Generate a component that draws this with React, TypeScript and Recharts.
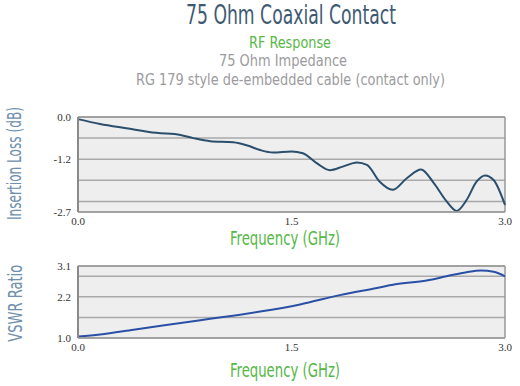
import React from 'react';
import { LineChart, Line, XAxis, YAxis, CartesianGrid, ReferenceLine } from 'recharts';

const ilFreq = [0, 0.155, 0.34, 0.55, 0.72, 0.81, 0.93, 1.09, 1.19, 1.28, 1.37, 1.5, 1.58, 1.68, 1.77, 1.86, 1.96, 2.03, 2.12, 2.21, 2.31, 2.41, 2.5, 2.59, 2.66, 2.73, 2.8, 2.86, 2.92, 3.0];
const ilValues = [-0.06, -0.2, -0.32, -0.45, -0.51, -0.6, -0.69, -0.72, -0.81, -0.94, -1.01, -0.98, -1.03, -1.32, -1.51, -1.41, -1.29, -1.36, -1.84, -2.07, -1.74, -1.49, -1.88, -2.4, -2.67, -2.36, -1.84, -1.66, -1.79, -2.5];

const vswrFreq = [0, 0.155, 0.39, 0.62, 0.86, 1.02, 1.28, 1.56, 1.84, 2.1, 2.22, 2.45, 2.59, 2.73, 2.83, 2.92, 3.0];
const vswrValues = [1.04, 1.1, 1.24, 1.38, 1.52, 1.61, 1.77, 1.98, 2.25, 2.46, 2.56, 2.68, 2.8, 2.92, 2.97, 2.93, 2.8];

const freqTicks = [0, 1.5, 3];
const ilTicks = [0, -0.6, -1.2, -1.8, -2.4, -2.7];
const ilLabeled = [0, -1.2, -2.7];
const vswrTicks = [1.0, 1.6, 2.2, 2.8, 3.1];
const vswrLabeled = [1.0, 2.2, 3.1];

const ilData = ilFreq.map((f, i) => ({ f, v: ilValues[i] }));
const vswrData = vswrFreq.map((f, i) => ({ f, v: vswrValues[i] }));

const tickStyle = { fontSize: 11, fill: '#333', fontFamily: '"Liberation Serif", serif' };
const condensed = '"Liberation Sans Narrow", "DejaVu Sans Condensed", sans-serif';

export default function App() {
  return (
    <div style={{ position: 'absolute', left: 0, top: 0, width: 520, height: 386, background: '#fff' }}>
      <div style={{ position: 'absolute', left: 0, top: 0 }}>
        <LineChart width={520} height={240} data={ilData} margin={{ top: 117, right: 15, left: 38, bottom: 8 }}>
          <CartesianGrid vertical={false} fill="#efeeee" stroke="#a9a9a9" strokeWidth={1.5} horizontalValues={ilTicks} />
          <XAxis dataKey="f" type="number" domain={[0, 3]} ticks={freqTicks} tickFormatter={(v: number) => v.toFixed(1)}
            height={20} tickSize={0} tickMargin={5} axisLine={{ stroke: '#999', strokeWidth: 1.5 }} tick={tickStyle} />
          <YAxis type="number" domain={[-2.7, 0]} ticks={ilTicks} interval={0} width={40} tickSize={0} tickMargin={7}
            tickFormatter={(v: number) => (ilLabeled.some((t) => Math.abs(t - v) < 1e-6) ? v.toFixed(1) : '')}
            axisLine={{ stroke: '#8a8a8a', strokeWidth: 2 }} tick={tickStyle} />
          <ReferenceLine x={3} stroke="#999" strokeWidth={1.5} />
          <ReferenceLine y={0} stroke="#999" strokeWidth={1.5} />
          <Line type="monotone" dataKey="v" stroke="#2a4e6c" strokeWidth={2} dot={false} isAnimationActive={false} />
        </LineChart>
      </div>
      <div style={{ position: 'absolute', left: 0, top: 250 }}>
        <LineChart width={520} height={116} data={vswrData} margin={{ top: 16, right: 15, left: 38, bottom: 8 }}>
          <CartesianGrid vertical={false} fill="#efeeee" stroke="#a9a9a9" strokeWidth={1.5} horizontalValues={vswrTicks} />
          <XAxis dataKey="f" type="number" domain={[0, 3]} ticks={freqTicks} tickFormatter={(v: number) => v.toFixed(1)}
            height={20} tickSize={0} tickMargin={5} axisLine={{ stroke: '#999', strokeWidth: 1.5 }} tick={tickStyle} />
          <YAxis type="number" domain={[1.0, 3.1]} ticks={vswrTicks} interval={0} width={40} tickSize={0} tickMargin={7}
            tickFormatter={(v: number) => (vswrLabeled.some((t) => Math.abs(t - v) < 1e-6) ? v.toFixed(1) : '')}
            axisLine={{ stroke: '#8a8a8a', strokeWidth: 2 }} tick={tickStyle} />
          <ReferenceLine x={3} stroke="#999" strokeWidth={1.5} />
          <ReferenceLine y={3.1} stroke="#999" strokeWidth={1.5} />
          <Line type="monotone" dataKey="v" stroke="#2a50a6" strokeWidth={2} dot={false} isAnimationActive={false} />
        </LineChart>
      </div>
      <svg width={520} height={386} style={{ position: 'absolute', left: 0, top: 0, pointerEvents: 'none' }}>
        <g fontFamily={condensed}>
          <text x={291} y={24} textAnchor="middle" fontSize={26} fill="#3e5a73" textLength={210} lengthAdjust="spacingAndGlyphs">75 Ohm Coaxial Contact</text>
          <text x={290} y={48} textAnchor="middle" fontSize={16} fill="#55b847" textLength={82} lengthAdjust="spacingAndGlyphs">RF Response</text>
          <text x={283} y={65.5} textAnchor="middle" fontSize={16} fill="#9b9b9d" textLength={128} lengthAdjust="spacingAndGlyphs">75 Ohm Impedance</text>
          <text x={290.5} y={84.5} textAnchor="middle" fontSize={16} fill="#9b9b9d" textLength={309} lengthAdjust="spacingAndGlyphs">RG 179 style de-embedded cable (contact only)</text>
          <text x={285} y={245} textAnchor="middle" fontSize={20} fill="#55b847" textLength={110} lengthAdjust="spacingAndGlyphs">Frequency (GHz)</text>
          <text x={285} y={376.5} textAnchor="middle" fontSize={20} fill="#55b847" textLength={110} lengthAdjust="spacingAndGlyphs">Frequency (GHz)</text>
          <text transform="translate(21,163.5) rotate(-90)" textAnchor="middle" fontSize={19} fill="#6e8fad" textLength={113} lengthAdjust="spacingAndGlyphs">Insertion Loss (dB)</text>
          <text transform="translate(22,303.3) rotate(-90)" textAnchor="middle" fontSize={19} fill="#6e8fad" textLength={77} lengthAdjust="spacingAndGlyphs">VSWR Ratio</text>
        </g>
      </svg>
    </div>
  );
}
